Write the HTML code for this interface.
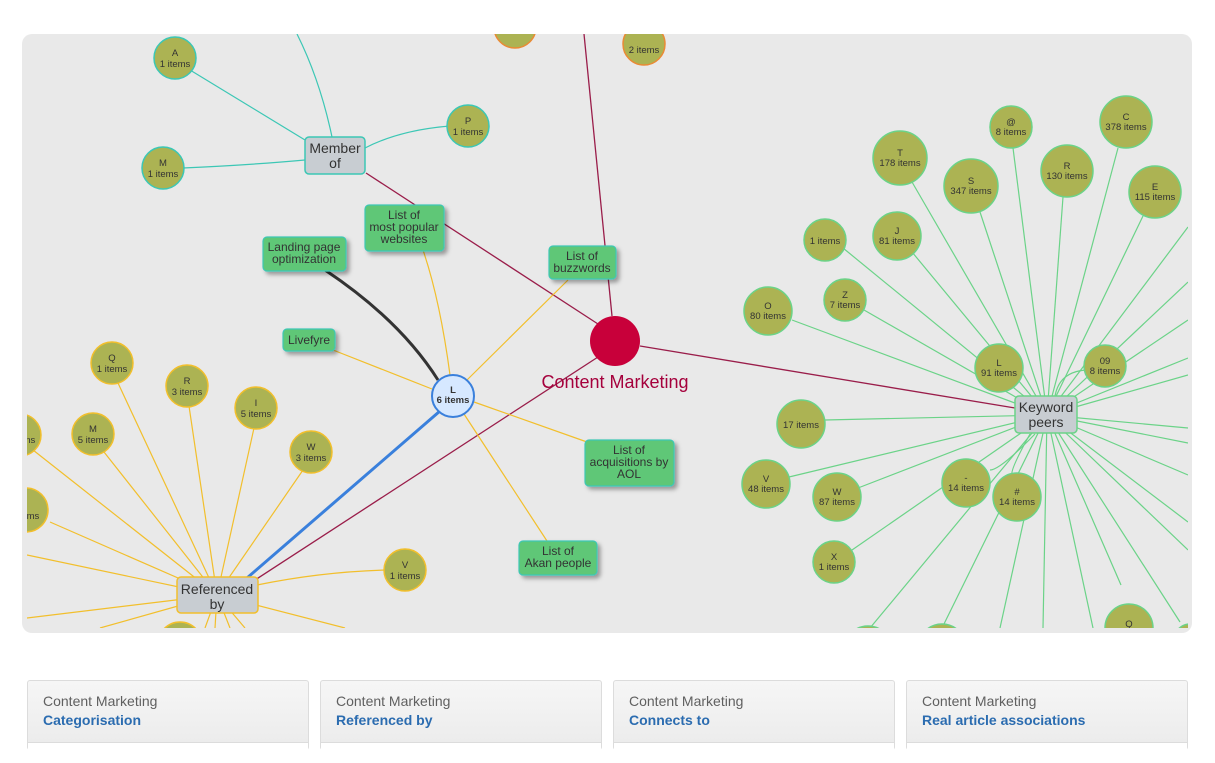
<!DOCTYPE html>
<html><head><meta charset="utf-8"><style>
body{margin:0;background:#fff;width:1215px;height:744px;overflow:hidden;font-family:"Liberation Sans",sans-serif}
svg{position:absolute;left:0;top:0}
.card{position:absolute;top:680px;width:282px;height:70px;border:1px solid #dcdcdc;border-radius:3px;background:linear-gradient(#f6f6f6,#ebebeb);box-sizing:border-box}
.card .a{position:absolute;left:15px;top:12px;font-size:14px;color:#606060}
.card .b{position:absolute;left:15px;top:31px;font-size:14px;font-weight:bold;color:#2b6cb0}
.card .w{position:absolute;left:0;right:0;top:61px;height:20px;background:#fff;border-top:1px solid #dcdcdc}
</style></head><body>
<svg width="1215" height="744" viewBox="0 0 1215 744" font-family="Liberation Sans, sans-serif">
<defs>
<clipPath id="c"><rect x="27" y="34" width="1161" height="594"/></clipPath>
<filter id="s" x="-20%" y="-20%" width="150%" height="160%"><feDropShadow dx="3" dy="3" stdDeviation="2" flood-color="#000" flood-opacity="0.35"/></filter>
</defs>
<rect x="22" y="34" width="1170" height="599" rx="10" fill="#e9e9e9"/>
<g clip-path="url(#c)">
<!-- teal -->
<g stroke="#3cc7b5" stroke-width="1.2" fill="none">
<line x1="305" y1="140" x2="190" y2="70"/>
<path d="M332 137 Q320 80 297 34"/>
<path d="M365 148 Q400 130 450 126"/>
<path d="M305 160 Q250 165 183 168"/>
</g>
<!-- maroon -->
<g stroke="#9a1d4a" stroke-width="1.3" fill="none">
<line x1="584" y1="34" x2="612" y2="316"/>
<line x1="366" y1="173" x2="598" y2="324"/>
<line x1="640" y1="346" x2="1015" y2="408"/>
<line x1="598" y1="357" x2="252" y2="582"/>
</g>
<!-- right green -->
<g stroke="#6bd388" stroke-width="1.2" fill="none">
<line x1="1047" y1="415" x2="912" y2="182"/>
<line x1="1047" y1="415" x2="1013" y2="148"/>
<line x1="1047" y1="415" x2="1118" y2="148"/>
<line x1="1047" y1="415" x2="980" y2="212"/>
<line x1="1047" y1="415" x2="1063" y2="197"/>
<line x1="1047" y1="415" x2="1143" y2="216"/>
<line x1="1047" y1="415" x2="843" y2="248"/>
<line x1="1047" y1="415" x2="912" y2="252"/>
<line x1="1047" y1="415" x2="864" y2="310"/>
<line x1="1047" y1="415" x2="792" y2="320"/>
<line x1="1047" y1="415" x2="825" y2="420"/>
<line x1="1047" y1="415" x2="789" y2="477"/>
<line x1="1047" y1="415" x2="858" y2="488"/>
<line x1="1047" y1="415" x2="852" y2="550"/>
<line x1="1047" y1="415" x2="870" y2="628"/>
<line x1="1047" y1="415" x2="942" y2="628"/>
<line x1="1047" y1="415" x2="1000" y2="628"/>
<line x1="1047" y1="415" x2="1043" y2="628"/>
<line x1="1047" y1="415" x2="1093" y2="628"/>
<line x1="1047" y1="415" x2="1121" y2="585"/>
<line x1="1047" y1="415" x2="1180" y2="622"/>
<line x1="1047" y1="415" x2="1188" y2="227"/>
<line x1="1047" y1="415" x2="1188" y2="282"/>
<line x1="1047" y1="415" x2="1188" y2="320"/>
<line x1="1047" y1="415" x2="1188" y2="358"/>
<line x1="1047" y1="415" x2="1188" y2="375"/>
<line x1="1047" y1="415" x2="1188" y2="428"/>
<line x1="1047" y1="415" x2="1188" y2="443"/>
<line x1="1047" y1="415" x2="1188" y2="475"/>
<line x1="1047" y1="415" x2="1188" y2="522"/>
<line x1="1047" y1="415" x2="1188" y2="550"/>
<path d="M1055 396 Q1060 368 1095 370"/>
<path d="M1030 434 Q1010 470 1012 475"/>
<path d="M1035 434 Q1000 470 990 470"/>
</g>
<!-- left yellow -->
<g stroke="#f2bf2c" stroke-width="1.2" fill="none">
<line x1="217" y1="595" x2="118" y2="383"/>
<line x1="217" y1="595" x2="189" y2="406"/>
<line x1="217" y1="595" x2="254" y2="428"/>
<line x1="217" y1="595" x2="104" y2="452"/>
<line x1="217" y1="595" x2="303" y2="470"/>
<line x1="217" y1="595" x2="33" y2="450"/>
<line x1="217" y1="595" x2="50" y2="522"/>
<line x1="217" y1="595" x2="27" y2="555"/>
<line x1="217" y1="595" x2="27" y2="618"/>
<line x1="217" y1="595" x2="100" y2="628"/>
<line x1="217" y1="595" x2="205" y2="628"/>
<line x1="217" y1="595" x2="215" y2="628"/>
<line x1="217" y1="595" x2="230" y2="628"/>
<line x1="217" y1="595" x2="245" y2="628"/>
<line x1="217" y1="595" x2="345" y2="628"/>
<path d="M257 585 Q320 572 385 570"/>
<path d="M450 375 Q440 300 423 250"/>
<line x1="467" y1="380" x2="568" y2="280"/>
<line x1="432" y1="389" x2="333" y2="350"/>
<line x1="474" y1="402" x2="587" y2="442"/>
<line x1="464" y1="414" x2="547" y2="541"/>
</g>
<path d="M325 270 Q400 320 438 380" stroke="#333" stroke-width="3" fill="none"/>
<line x1="440" y1="411" x2="247" y2="578" stroke="#3a80dc" stroke-width="3"/>
<!-- circles -->
<g fill="#acb353" stroke="#3cc7b5" stroke-width="1.5">
<circle cx="175" cy="58" r="21"/><circle cx="163" cy="168" r="21"/><circle cx="468" cy="126" r="21"/>
</g>
<g fill="#acb353" stroke="#ea8a35" stroke-width="1.5">
<circle cx="515" cy="27" r="21"/><circle cx="644" cy="44" r="21"/>
</g>
<g fill="#acb353" stroke="#f2bf2c" stroke-width="1.5">
<circle cx="112" cy="363" r="21"/><circle cx="187" cy="386" r="21"/><circle cx="256" cy="408" r="21"/>
<circle cx="93" cy="434" r="21"/><circle cx="311" cy="452" r="21"/><circle cx="20" cy="435" r="21"/>
<circle cx="26" cy="510" r="22"/><circle cx="405" cy="570" r="21"/><circle cx="180" cy="644" r="22"/>
</g>
<g fill="#acb353" stroke="#6bd388" stroke-width="1.5">
<circle cx="900" cy="158" r="27"/><circle cx="1011" cy="127" r="21"/><circle cx="1126" cy="122" r="26"/>
<circle cx="971" cy="186" r="27"/><circle cx="1067" cy="171" r="26"/><circle cx="1155" cy="192" r="26"/>
<circle cx="825" cy="240" r="21"/><circle cx="897" cy="236" r="24"/><circle cx="845" cy="300" r="21"/>
<circle cx="768" cy="311" r="24"/><circle cx="999" cy="368" r="24"/><circle cx="1105" cy="366" r="21"/>
<circle cx="801" cy="424" r="24"/><circle cx="766" cy="484" r="24"/><circle cx="837" cy="497" r="24"/>
<circle cx="966" cy="483" r="24"/><circle cx="1017" cy="497" r="24"/><circle cx="834" cy="562" r="21"/>
<circle cx="1129" cy="628" r="24"/><circle cx="868" cy="650" r="24"/><circle cx="942" cy="648" r="24"/><circle cx="1190" cy="640" r="16"/>
</g>
<g font-size="9.5" fill="#333" text-anchor="middle">
<text x="175" y="56">A</text><text x="175" y="67">1 items</text>
<text x="163" y="166">M</text><text x="163" y="177">1 items</text>
<text x="468" y="124">P</text><text x="468" y="135">1 items</text>
<text x="644" y="53">2 items</text>
<text x="112" y="361">Q</text><text x="112" y="372">1 items</text>
<text x="187" y="384">R</text><text x="187" y="395">3 items</text>
<text x="256" y="406">I</text><text x="256" y="417">5 items</text>
<text x="93" y="432">M</text><text x="93" y="443">5 items</text>
<text x="311" y="450">W</text><text x="311" y="461">3 items</text>
<text x="20" y="443">5 items</text>
<text x="24" y="508">T</text><text x="24" y="519">6 items</text>
<text x="405" y="568">V</text><text x="405" y="579">1 items</text>
<text x="900" y="156">T</text><text x="900" y="166">178 items</text>
<text x="1011" y="125">@</text><text x="1011" y="135">8 items</text>
<text x="1126" y="120">C</text><text x="1126" y="130">378 items</text>
<text x="971" y="184">S</text><text x="971" y="194">347 items</text>
<text x="1067" y="169">R</text><text x="1067" y="179">130 items</text>
<text x="1155" y="190">E</text><text x="1155" y="200">115 items</text>
<text x="825" y="244">1 items</text>
<text x="897" y="234">J</text><text x="897" y="244">81 items</text>
<text x="845" y="298">Z</text><text x="845" y="308">7 items</text>
<text x="768" y="309">O</text><text x="768" y="319">80 items</text>
<text x="999" y="366">L</text><text x="999" y="376">91 items</text>
<text x="1105" y="364">09</text><text x="1105" y="374">8 items</text>
<text x="801" y="428">17 items</text>
<text x="766" y="482">V</text><text x="766" y="492">48 items</text>
<text x="837" y="495">W</text><text x="837" y="505">87 items</text>
<text x="966" y="481">-</text><text x="966" y="491">14 items</text>
<text x="1017" y="495">#</text><text x="1017" y="505">14 items</text>
<text x="834" y="560">X</text><text x="834" y="570">1 items</text>
<text x="1129" y="627">Q</text>
</g>
<!-- green boxes -->
<g fill="#5ec777" stroke="#3cc7b5" stroke-width="1.2" filter="url(#s)">
<rect x="365" y="205" width="79" height="46" rx="4"/>
<rect x="263" y="237" width="83" height="34" rx="4"/>
<rect x="549" y="246" width="67" height="33" rx="4"/>
<rect x="283" y="329" width="52" height="22" rx="4"/>
<rect x="585" y="440" width="89" height="46" rx="4"/>
<rect x="519" y="541" width="78" height="34" rx="4"/>
</g>
<g font-size="12" fill="#333" text-anchor="middle">
<text x="404" y="219">List of</text><text x="404" y="231">most popular</text><text x="404" y="243">websites</text>
<text x="304" y="251">Landing page</text><text x="304" y="263">optimization</text>
<text x="582" y="260">List of</text><text x="582" y="272">buzzwords</text>
<text x="309" y="344">Livefyre</text>
<text x="629" y="454">List of</text><text x="629" y="466">acquisitions by</text><text x="629" y="478">AOL</text>
<text x="558" y="555">List of</text><text x="558" y="567">Akan people</text>
</g>
<!-- grey boxes -->
<g fill="#c8cdd2" stroke-width="1.5">
<rect x="305" y="137" width="60" height="37" rx="4" stroke="#3cc7b5"/>
<rect x="177" y="577" width="81" height="36" rx="4" stroke="#f2bf2c"/>
<rect x="1015" y="396" width="62" height="37" rx="4" stroke="#6bd388"/>
</g>
<g font-size="14" fill="#333" text-anchor="middle">
<text x="335" y="153">Member</text><text x="335" y="168">of</text>
<text x="217" y="594">Referenced</text><text x="217" y="609">by</text>
<text x="1046" y="412">Keyword</text><text x="1046" y="427">peers</text>
</g>
<circle cx="453" cy="396" r="21" fill="#d6e8ff" stroke="#3a80dc" stroke-width="2"/>
<text x="453" y="393" font-size="9.5" font-weight="bold" fill="#333" text-anchor="middle">L</text>
<text x="453" y="403" font-size="9.5" font-weight="bold" fill="#333" text-anchor="middle">6 items</text>
<circle cx="615" cy="341" r="25" fill="#c8003a"/>
<text x="615" y="388" font-size="18" fill="#a5003c" text-anchor="middle">Content Marketing</text>
</g>
</svg>
<div class="card" style="left:27px"><div class="a">Content Marketing</div><div class="b">Categorisation</div><div class="w"></div></div>
<div class="card" style="left:320px"><div class="a">Content Marketing</div><div class="b">Referenced by</div><div class="w"></div></div>
<div class="card" style="left:613px"><div class="a">Content Marketing</div><div class="b">Connects to</div><div class="w"></div></div>
<div class="card" style="left:906px"><div class="a">Content Marketing</div><div class="b">Real article associations</div><div class="w"></div></div>
</body></html>
